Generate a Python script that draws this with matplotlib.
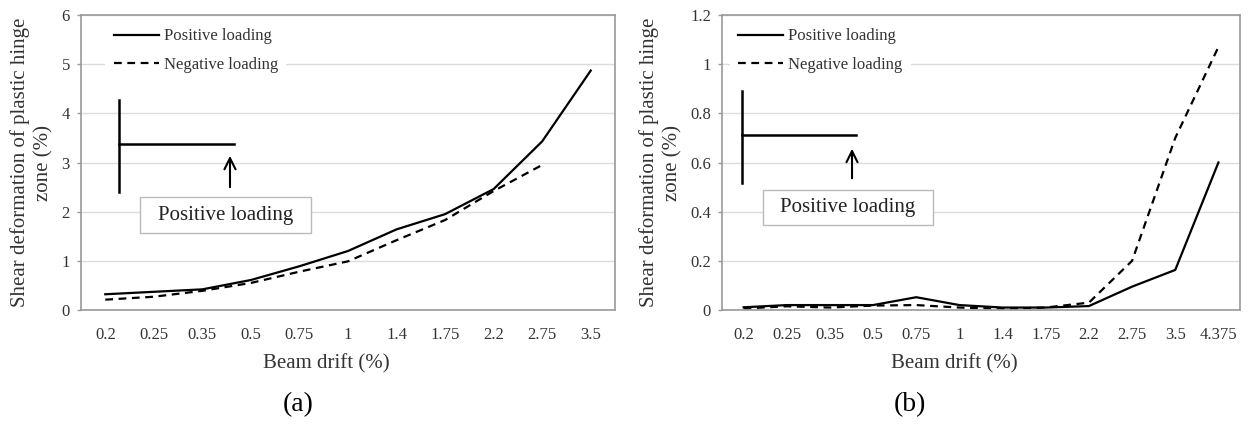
import matplotlib
matplotlib.use('Agg')
import matplotlib.pyplot as plt
from matplotlib.patches import Rectangle

plt.rcParams['font.family'] = ['Liberation Serif', 'DejaVu Serif']

# dati
drift_a = ['0.2', '0.25', '0.35', '0.5', '0.75', '1', '1.4', '1.75', '2.2', '2.75', '3.5']
pos_a = [0.32, 0.37, 0.42, 0.61, 0.89, 1.2, 1.64, 1.95, 2.46, 3.43, 4.87]
neg_a = [0.21, 0.27, 0.39, 0.55, 0.78, 0.99, 1.42, 1.83, 2.42, 2.95]

drift_b = ['0.2', '0.25', '0.35', '0.5', '0.75', '1', '1.4', '1.75', '2.2', '2.75', '3.5', '4.375']
pos_b = [0.011, 0.02, 0.02, 0.02, 0.052, 0.02, 0.01, 0.01, 0.016, 0.095, 0.163, 0.60]
neg_b = [0.006, 0.015, 0.01, 0.018, 0.02, 0.01, 0.005, 0.01, 0.03, 0.20, 0.70, 1.07]

ylabel = 'Shear deformation of plastic hinge\nzone (%)'
grigio = '#999999'


def pannello(ax, cats, pos, neg, ymax, ystep, ylab_x, xlab_x, leg_x, diag):
    x = list(range(len(cats)))
    ax.plot(x[:len(pos)], pos, color='black', lw=1.6, label='Positive loading')
    ax.plot(x[:len(neg)], neg, color='black', lw=1.6, linestyle=(0, (3.5, 2.5)),
            label='Negative loading')
    ax.set_xlim(-0.5, len(cats) - 0.5)
    ax.set_ylim(0, ymax)
    ax.set_xticks(x)
    ax.set_xticklabels(cats)
    ticks = [round(i * ystep, 2) for i in range(int(round(ymax / ystep)) + 1)]
    ax.set_yticks(ticks)
    ax.set_yticklabels([('%g' % t) for t in ticks])
    ax.tick_params(axis='x', length=0, pad=12, labelsize=12, colors='#333333')
    ax.tick_params(axis='y', length=3, width=1, pad=5, labelsize=12, colors='#333333')
    ax.tick_params(axis='y', color=grigio)
    ax.grid(axis='y', color='#dcdcdc', lw=1)
    ax.set_axisbelow(True)
    for s in ax.spines.values():
        s.set_color(grigio)
        s.set_linewidth(1.2)
    ax.set_ylabel(ylabel, fontsize=15, color='#333333', linespacing=1.25)
    ax.yaxis.set_label_coords(ylab_x, 0.5)
    ax.set_xlabel('Beam drift (%)', fontsize=15, color='#333333')
    ax.xaxis.set_label_coords(xlab_x, -0.15)
    leg = ax.legend(loc='upper left', bbox_to_anchor=(leg_x, 1.0), fontsize=12,
                    handlelength=2.7, handletextpad=0.3, labelspacing=0.75,
                    borderpad=0.5, borderaxespad=0.3, frameon=True, fancybox=False)
    leg.get_frame().set_facecolor('white')
    leg.get_frame().set_edgecolor('none')
    leg.get_frame().set_alpha(1)
    for t in leg.get_texts():
        t.set_color('#333333')

    # schema della trave con freccia
    vx, vy0, vy1, hy, hx1, axx, ay0, ay1, bx0, bx1, by0, by1 = diag
    tr = ax.transAxes
    ax.plot([vx, vx], [vy0, vy1], color='black', lw=1.8, transform=tr)
    ax.plot([vx, hx1], [hy, hy], color='black', lw=1.8, transform=tr)
    ax.annotate('', xy=(axx, ay1), xytext=(axx, ay0), xycoords=tr,
                arrowprops=dict(arrowstyle='->', color='black', lw=1.5,
                                mutation_scale=20))
    ax.add_patch(Rectangle((bx0, by0), bx1 - bx0, by1 - by0, transform=tr,
                           facecolor='white', edgecolor='#bbbbbb', lw=1))
    ax.text((bx0 + bx1) / 2, (by0 + by1) / 2, 'Positive loading', transform=tr,
            ha='center', va='center', fontsize=15, color='#222222')


fig = plt.figure(figsize=(12.5, 4.29), dpi=100)
ax1 = fig.add_axes([0.0648, 0.2774, 0.4272, 0.6876])
ax2 = fig.add_axes([0.5776, 0.2774, 0.4144, 0.6876])

pannello(ax1, drift_a, pos_a, neg_a, 6, 1, -0.052, 0.46, 0.036,
         (0.0712, 0.712, 0.40, 0.5627, 0.2865, 0.279, 0.4068, 0.532,
          0.1105, 0.4307, 0.261, 0.383))
pannello(ax2, drift_b, pos_b, neg_b, 1.2, 0.2, -0.077, 0.448, 0.006,
         (0.0386, 0.742, 0.4305, 0.593, 0.2587, 0.251, 0.437, 0.556,
          0.079, 0.407, 0.288, 0.407))

fig.text(0.2384, 0.056, '(a)', ha='center', va='center', fontsize=20)
fig.text(0.728, 0.056, '(b)', ha='center', va='center', fontsize=20)

plt.savefig('out.png', dpi=100)
